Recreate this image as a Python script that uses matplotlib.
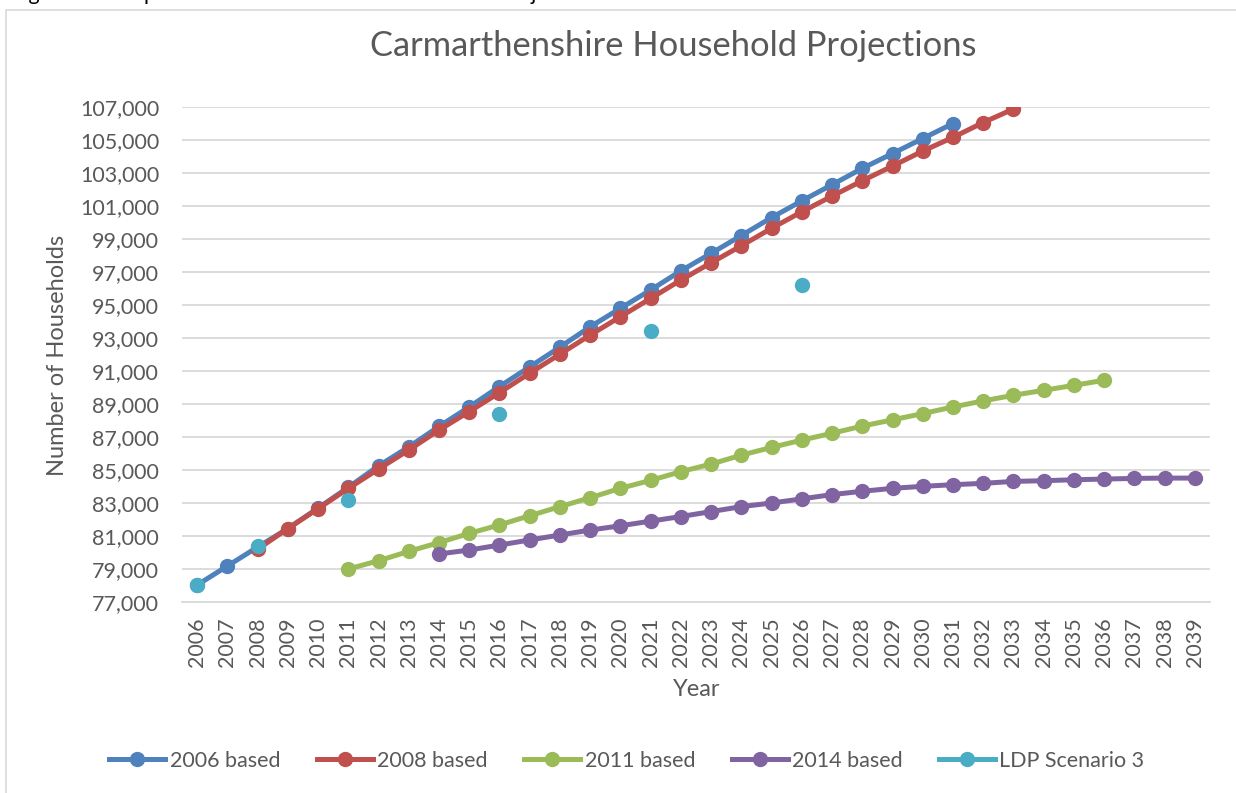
import matplotlib
matplotlib.use("Agg")
import matplotlib.pyplot as plt
from matplotlib.patches import Rectangle
from matplotlib.lines import Line2D
from matplotlib.ticker import FuncFormatter

plt.rcParams['font.family'] = ['Lato', 'DejaVu Sans']

years = list(range(2006, 2040))

# household projections
based_2006 = [78030, 79180, 80330, 81450, 82690, 83950, 85250, 86400, 87640, 88820,
              90060, 91250, 92450, 93680, 94800, 95910, 97070, 98130, 99210, 100300,
              101310, 102290, 103280, 104180, 105090, 106000]
based_2008 = [80200, 81450, 82660, 83880, 85060, 86210, 87420, 88540, 89690, 90870,
              92020, 93180, 94290, 95400, 96510, 97560, 98590, 99650, 100650, 101600,
              102530, 103420, 104330, 105160, 106060, 106880]
based_2011 = [79000, 79500, 80070, 80600, 81160, 81670, 82230, 82780, 83320, 83890,
              84370, 84900, 85360, 85900, 86370, 86810, 87230, 87660, 88040, 88420,
              88820, 89190, 89530, 89830, 90130, 90440]
based_2014 = [79910, 80150, 80450, 80760, 81060, 81360, 81620, 81900, 82180, 82480,
              82780, 83000, 83250, 83510, 83710, 83890, 84010, 84110, 84190, 84310,
              84350, 84410, 84450, 84490, 84510, 84510]
ldp_years = [2006, 2008, 2011, 2016, 2021, 2026]
ldp_values = [78030, 80400, 83180, 88380, 93440, 96230]

series = [
    ('2006 based', 2006, based_2006, '#4F81BD'),
    ('2008 based', 2008, based_2008, '#C0504D'),
    ('2011 based', 2011, based_2011, '#9BBB59'),
    ('2014 based', 2014, based_2014, '#8064A2'),
]
ldp_color = '#4BACC6'
grey = '#595959'

W, H = 1236, 793
fig = plt.figure(figsize=(W/100, H/100), dpi=100)
ax = fig.add_axes([182/W, 1 - 602/H, (1210-182)/W, (602-107)/H])

# outer chart frame
fig.patches.append(Rectangle((6/W, -0.05), 1.2, 1 - 10/H + 0.05,
                             transform=fig.transFigure, fill=False,
                             edgecolor='#d9d9d9', linewidth=1.2))
# caption of the page, mostly cut off at the top
fig.text(11/W, 1 + 0.5/H, "Figure 3: Comparative Carmarthenshire Household Projections",
         fontsize=15.5, va='baseline', ha='left', color='black')

lw = 3.6
ms = 10
handles = []
for name, start, vals, col in series:
    x0 = years.index(start)
    ax.plot(range(x0, x0 + len(vals)), vals, color=col, lw=lw, marker='o', ms=ms)
    handles.append(Line2D([], [], color=col, lw=lw, marker='o', ms=ms, label=name))
ax.plot([years.index(y) for y in ldp_years], ldp_values, ls='none', marker='o', ms=ms, color=ldp_color)
handles.append(Line2D([], [], color=ldp_color, lw=lw, marker='o', ms=ms, label='LDP Scenario 3'))

ax.set_xlim(-0.5, len(years) - 0.5)
ax.set_ylim(77000, 107000)
ax.set_yticks(range(77000, 107001, 2000))
ax.yaxis.set_major_formatter(FuncFormatter(lambda v, p: f"{int(v):,}"))
ax.set_xticks(range(len(years)))
ax.set_xticklabels([str(y) for y in years], rotation=90)

ax.grid(axis='y', color='#d9d9d9', lw=1.3)
ax.set_axisbelow(True)
for s in ['top', 'right', 'left']:
    ax.spines[s].set_visible(False)
ax.spines['bottom'].set_color('#d9d9d9')
ax.spines['bottom'].set_linewidth(1.3)
ax.tick_params(axis='y', length=0, pad=16.5, labelsize=15.5, labelcolor=grey)
ax.tick_params(axis='x', length=0, pad=11, labelsize=15.5, labelcolor=grey)

fig.text(673/W, 1 - 56/H, "Carmarthenshire Household Projections", fontsize=24.8,
         color=grey, ha='center', va='baseline')
fig.text(697/W, 1 - 690/H, "Year", fontsize=17, color=grey, ha='center', va='center')
fig.text(58/W, 1 - 355/H, "Number of Households", fontsize=17, color=grey,
         ha='center', va='center', rotation=90)

fig.legend(handles=handles, loc='center', bbox_to_anchor=(627/W, 1 - 761/H), ncol=5,
           frameon=False, fontsize=15.5, labelcolor=grey, handlelength=2.6,
           columnspacing=1.7, handletextpad=0.2, borderpad=0, borderaxespad=0)

fig.savefig("out.png", dpi=100)
